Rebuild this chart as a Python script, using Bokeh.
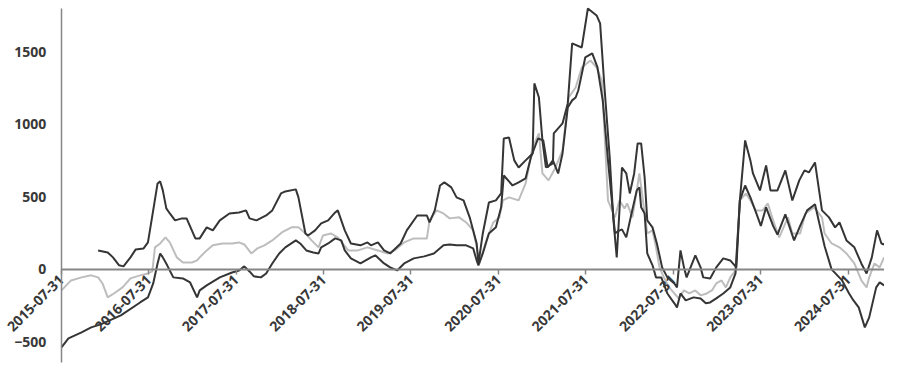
import math
import pandas as pd
from bokeh.plotting import figure
from bokeh.models import Range1d, FixedTicker, DatetimeTickFormatter, LinearAxis, DatetimeAxis
from bokeh.embed import file_html
from bokeh.resources import INLINE

# ---- data (decimal year, value) ----
upper_t = [2016.00, 2016.11, 2016.17, 2016.24, 2016.29, 2016.37, 2016.43, 2016.52, 2016.57, 2016.63,
           2016.68, 2016.71, 2016.74, 2016.78, 2016.82, 2016.88, 2016.96, 2017.01, 2017.07, 2017.11,
           2017.16, 2017.24, 2017.31, 2017.39, 2017.50, 2017.61, 2017.69, 2017.73, 2017.81, 2017.92,
           2017.99, 2018.09, 2018.14, 2018.26, 2018.29, 2018.37, 2018.40, 2018.48, 2018.55, 2018.63,
           2018.71, 2018.74, 2018.82, 2018.89, 2019.00, 2019.08, 2019.12, 2019.20, 2019.27, 2019.34,
           2019.46, 2019.53, 2019.65, 2019.76, 2019.79, 2019.85, 2019.91, 2019.96, 2020.04, 2020.10,
           2020.18, 2020.25, 2020.33, 2020.35, 2020.40, 2020.47, 2020.55, 2020.61, 2020.64, 2020.70,
           2020.76, 2020.81, 2020.89, 2020.97, 2020.99, 2021.04, 2021.08, 2021.12, 2021.20, 2021.21,
           2021.31, 2021.37, 2021.42, 2021.53, 2021.60, 2021.70, 2021.74, 2021.79, 2021.85, 2021.89,
           2021.93, 2021.99, 2022.04, 2022.08, 2022.13, 2022.17, 2022.21, 2022.25, 2022.28, 2022.34,
           2022.39, 2022.45, 2022.51, 2022.59, 2022.62, 2022.66, 2022.70, 2022.73, 2022.83, 2022.89,
           2022.92, 2023.00, 2023.07, 2023.15, 2023.23, 2023.30, 2023.34, 2023.40, 2023.46, 2023.49,
           2023.57, 2023.64, 2023.69, 2023.77, 2023.86, 2023.94, 2024.02, 2024.08, 2024.13, 2024.20,
           2024.28, 2024.36, 2024.43, 2024.48, 2024.56, 2024.65, 2024.73, 2024.79, 2024.85, 2024.91,
           2024.96, 2024.99]
upper_v = [131, 117, 83, 28, 21, 83, 138, 145, 186, 407,
           593, 607, 545, 421, 386, 338, 352, 352, 269, 214,
           214, 290, 269, 338, 386, 393, 407, 352, 338, 372,
           407, 524, 538, 552, 497, 248, 234, 269, 317, 338,
           393, 407, 269, 179, 166, 186, 166, 186, 131, 110,
           179, 269, 372, 372, 324, 407, 579, 600, 566, 497,
           476, 359, 179, 40, 248, 462, 476, 524, 903, 910,
           752, 703, 752, 800, 1283, 1186, 890, 703, 731, 938,
           1007, 1145, 1559, 1531, 1800, 1752, 1697, 1255, 772, 359,
           83, 703, 662, 524, 662, 869, 869, 634, 338, 290,
           179, 14, -55, -97, -124, 131, 14, -55, 97, 14,
           -55, -62, 14, 76, 62, 14, 476, 890, 752, 662,
           545, 717, 545, 545, 683, 476, 614, 683, 669, 738,
           407, 359, 290, 324, 200, 152, 41, -28, 83, 269,
           179, 172]

lower_t = [2015.58, 2015.66, 2015.81, 2015.92, 2016.03, 2016.26, 2016.48, 2016.57, 2016.63, 2016.68,
           2016.71, 2016.74, 2016.79, 2016.86, 2016.97, 2017.05, 2017.13, 2017.16, 2017.24, 2017.39,
           2017.53, 2017.61, 2017.67, 2017.73, 2017.78, 2017.86, 2017.92, 2017.99, 2018.07, 2018.14,
           2018.26, 2018.31, 2018.38, 2018.46, 2018.52, 2018.55, 2018.63, 2018.71, 2018.78, 2018.82,
           2018.89, 2019.00, 2019.12, 2019.17, 2019.27, 2019.34, 2019.42, 2019.50, 2019.61, 2019.73,
           2019.84, 2019.95, 2020.02, 2020.10, 2020.21, 2020.29, 2020.33, 2020.35, 2020.40, 2020.47,
           2020.55, 2020.61, 2020.64, 2020.74, 2020.81, 2020.89, 2020.95, 2021.03, 2021.09, 2021.14,
           2021.20, 2021.26, 2021.31, 2021.37, 2021.42, 2021.46, 2021.49, 2021.57, 2021.65, 2021.71,
           2021.77, 2021.83, 2021.91, 2021.94, 2021.99, 2022.04, 2022.10, 2022.16, 2022.19, 2022.21,
           2022.25, 2022.28, 2022.34, 2022.38, 2022.44, 2022.51, 2022.59, 2022.62, 2022.66, 2022.72,
           2022.81, 2022.89, 2022.95, 2023.00, 2023.07, 2023.15, 2023.23, 2023.29, 2023.34, 2023.40,
           2023.46, 2023.52, 2023.58, 2023.64, 2023.72, 2023.77, 2023.86, 2023.96, 2024.03, 2024.11,
           2024.20, 2024.25, 2024.31, 2024.39, 2024.51, 2024.59, 2024.64, 2024.70, 2024.77, 2024.82,
           2024.90, 2024.94, 2024.99]
lower_v = [-538, -476, -434, -400, -379, -317, -228, -193, -97, 41,
           110, 83, 28, -55, -62, -90, -193, -145, -110, -55,
           -21, -7, 21, -14, -48, -55, -28, 41, 110, 152,
           200, 179, 131, 117, 110, 152, 179, 214, 200, 131,
           76, 41, 83, 97, 41, 14, -7, 41, 76, 90,
           110, 166, 172, 166, 166, 145, 62, 28, 110, 248,
           290, 428, 648, 579, 600, 628, 772, 903, 890, 703,
           752, 662, 800, 1117, 1166, 1186, 1234, 1462, 1490, 1393,
           1166, 752, 248, 262, 276, 221, 386, 545, 566, 428,
           386, 110, 28, -55, -55, -166, -234, -262, -166, -214,
           -193, -200, -234, -228, -200, -166, -124, -28, 476, 579,
           497, 400, 300, 428, 300, 240, 380, 200, 300, 407,
           450, 317, 160, 0, -76, -166, -214, -262, -400, -331,
           -124, -90, -110]

mid_t = [2015.58, 2015.69, 2015.81, 2015.92, 2016.00, 2016.05, 2016.11, 2016.18, 2016.28, 2016.37,
         2016.48, 2016.57, 2016.62, 2016.65, 2016.71, 2016.77, 2016.82, 2016.90, 2016.97, 2017.07,
         2017.13, 2017.16, 2017.24, 2017.31, 2017.42, 2017.53, 2017.61, 2017.67, 2017.75, 2017.82,
         2017.90, 2017.99, 2018.10, 2018.21, 2018.29, 2018.37, 2018.44, 2018.52, 2018.57, 2018.66,
         2018.74, 2018.86, 2018.97, 2019.08, 2019.20, 2019.31, 2019.39, 2019.50, 2019.61, 2019.76,
         2019.79, 2019.87, 2019.95, 2020.02, 2020.13, 2020.21, 2020.29, 2020.33, 2020.36, 2020.44,
         2020.52, 2020.59, 2020.63, 2020.70, 2020.81, 2020.89, 2020.97, 2021.04, 2021.08, 2021.15,
         2021.23, 2021.31, 2021.38, 2021.46, 2021.53, 2021.63, 2021.70, 2021.76, 2021.83, 2021.91,
         2021.96, 2022.02, 2022.05, 2022.11, 2022.16, 2022.19, 2022.22, 2022.28, 2022.34, 2022.38,
         2022.42, 2022.47, 2022.53, 2022.59, 2022.64, 2022.70, 2022.76, 2022.83, 2022.89, 2022.96,
         2023.02, 2023.07, 2023.13, 2023.18, 2023.23, 2023.29, 2023.34, 2023.41, 2023.46, 2023.52,
         2023.60, 2023.66, 2023.72, 2023.79, 2023.89, 2023.94, 2024.03, 2024.09, 2024.19, 2024.28,
         2024.31, 2024.39, 2024.48, 2024.56, 2024.65, 2024.73, 2024.79, 2024.82, 2024.88, 2024.94,
         2024.99]
mid_v = [-145, -76, -55, -41, -55, -97, -193, -166, -124, -62,
         -41, -28, -14, 152, 179, 221, 186, 83, 48, 48,
         62, 83, 131, 166, 179, 179, 186, 172, 110, 145,
         166, 200, 255, 290, 290, 248, 200, 152, 234, 248,
         221, 131, 131, 152, 131, 110, 131, 186, 214, 214,
         338, 407, 386, 352, 359, 324, 269, 160, 41, 200,
         324, 359, 476, 497, 476, 593, 841, 938, 662, 614,
         703, 821, 1186, 1255, 1393, 1441, 1393, 1303, 476, 359,
         476, 420, 455, 359, 545, 662, 524, 248, 269, 152,
         14, -55, -124, -166, -200, -145, -166, -145, -179, -166,
         -145, -97, -76, -124, -55, -7, 476, 524, 476, 407,
         407, 455, 338, 221, 359, 248, 248, 386, 428, 359,
         248, 179, 152, 110, 41, -76, -124, -55, 41, 14,
         83]

tick_labels = ["2015-07-31", "2016-07-31", "2017-07-31", "2018-07-31", "2019-07-31",
               "2020-07-31", "2021-07-31", "2022-07-31", "2023-07-31", "2024-07-31"]
y_ticks = [-500, 0, 500, 1000, 1500]
y_axis_min, y_axis_max = -641, 1800
x_axis_end = 2024.995


def to_dt(t):
    y = int(t)
    return pd.Timestamp(year=y, month=1, day=1) + pd.Timedelta(days=(t - y) * 365.25)


def ms(ts):
    return pd.Timestamp(ts).value / 1e6


FONT = "Open Sans"
AXIS_COL = "#868686"
TXT_COL = "#383838"
LBL_SIZE = "14px"

# the frame covers the whole canvas; both axes are placed inside it at fixed locations
p = figure(width=884, height=364, output_backend="svg", toolbar_location=None,
           x_axis_type=None, y_axis_type=None,
           x_range=Range1d(to_dt(2014.882), to_dt(x_axis_end)),
           y_range=Range1d(-656, 1855),
           min_border_left=0, min_border_right=0, min_border_top=0, min_border_bottom=0)
p.outline_line_color = None
p.background_fill_color = "white"
p.border_fill_color = "white"
p.xgrid.visible = False
p.ygrid.visible = False

tick_ms = [ms(s) for s in tick_labels]

# y axis at the first date tick
yax = LinearAxis(ticker=FixedTicker(ticks=y_ticks), fixed_location=tick_ms[0],
                 bounds=(y_axis_min, y_axis_max))
yax.axis_line_color = AXIS_COL
yax.axis_line_width = 1.5
yax.major_tick_line_color = None
yax.minor_tick_line_color = None
yax.major_label_standoff = 9
yax.major_label_text_font = FONT
yax.major_label_text_font_size = LBL_SIZE
yax.major_label_text_font_style = "bold"
yax.major_label_text_color = TXT_COL
p.add_layout(yax, "left")

# x axis at y = 0
fmt = "%Y-%m-%d"
xax = DatetimeAxis(
    ticker=FixedTicker(ticks=tick_ms),
    formatter=DatetimeTickFormatter(milliseconds=fmt, seconds=fmt, minsec=fmt, minutes=fmt,
                                    hourmin=fmt, hours=fmt, days=fmt, months=fmt, years=fmt,
                                    context=None),
    fixed_location=0,
    bounds=(tick_ms[0], ms(to_dt(x_axis_end))))
xax.axis_line_color = AXIS_COL
xax.axis_line_width = 2
xax.major_tick_line_color = AXIS_COL
xax.major_tick_line_width = 1.5
xax.major_tick_out = 5
xax.major_tick_in = 0
xax.minor_tick_line_color = None
xax.major_label_orientation = math.pi / 4
xax.major_label_standoff = 3
xax.major_label_text_font = FONT
xax.major_label_text_font_size = LBL_SIZE
xax.major_label_text_font_style = "bold"
xax.major_label_text_color = TXT_COL
p.add_layout(xax, "below")

p.line([to_dt(t) for t in mid_t], mid_v, line_color="#bdbdbd", line_width=2)
p.line([to_dt(t) for t in upper_t], upper_v, line_color="#353535", line_width=2)
p.line([to_dt(t) for t in lower_t], lower_v, line_color="#353535", line_width=2)

open("out.html", "w").write(file_html(p, INLINE))
